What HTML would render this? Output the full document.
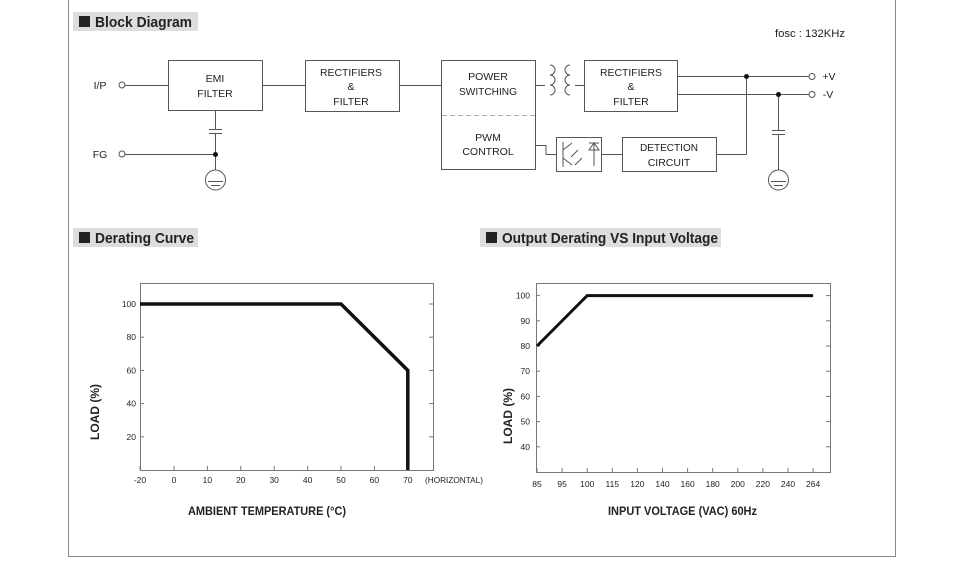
<!DOCTYPE html>
<html><head><meta charset="utf-8"><style>
body{margin:0;background:#fff;width:960px;height:561px;overflow:hidden;font-family:"Liberation Sans",Arial,sans-serif}
svg text{font-family:"Liberation Sans",Arial,sans-serif;fill:#222}
</style></head><body>
<svg width="960" height="561" viewBox="0 0 960 561" xmlns="http://www.w3.org/2000/svg">
<g stroke="#888" fill="none" stroke-width="1">
<line x1="68.5" y1="0" x2="68.5" y2="556.5"/><line x1="68" y1="556.5" x2="896" y2="556.5"/><line x1="895.5" y1="0" x2="895.5" y2="557"/>
</g>
<g><rect x="73" y="12" width="125" height="19" fill="#ddd"/><rect x="79" y="16" width="11" height="11" fill="#222"/><text x="95" y="27" font-size="15" font-weight="bold" textLength="97" lengthAdjust="spacingAndGlyphs">Block Diagram</text></g>
<g><rect x="73" y="228" width="125" height="19" fill="#ddd"/><rect x="79" y="232" width="11" height="11" fill="#222"/><text x="95" y="243" font-size="15" font-weight="bold" textLength="99" lengthAdjust="spacingAndGlyphs">Derating Curve</text></g>
<g><rect x="480" y="228" width="241" height="19" fill="#ddd"/><rect x="486" y="232" width="11" height="11" fill="#222"/><text x="502" y="243" font-size="15" font-weight="bold" textLength="216" lengthAdjust="spacingAndGlyphs">Output Derating VS Input Voltage</text></g>
<text x="775" y="37" font-size="11" textLength="70" lengthAdjust="spacingAndGlyphs">fosc : 132KHz</text>
<g stroke="#555" fill="none" stroke-width="1">
<rect x="168.5" y="60.5" width="94" height="50"/>
<rect x="305.5" y="60.5" width="94" height="51"/>
<rect x="441.5" y="60.5" width="94" height="109"/>
<line x1="442" y1="115.5" x2="535" y2="115.5" stroke="#aaa" stroke-dasharray="5,3"/>
<rect x="584.5" y="60.5" width="93" height="51"/>
<rect x="556.5" y="137.5" width="45" height="34"/>
<rect x="622.5" y="137.5" width="94" height="34"/>
<circle cx="122" cy="85" r="3"/><line x1="125" y1="85.5" x2="168" y2="85.5"/>
<circle cx="122" cy="154" r="3"/><line x1="125" y1="154.5" x2="215" y2="154.5"/>
<line x1="262" y1="85.5" x2="305" y2="85.5"/><line x1="399" y1="85.5" x2="441" y2="85.5"/>
<line x1="215.5" y1="110" x2="215.5" y2="129"/><line x1="209" y1="129.5" x2="222" y2="129.5"/><line x1="209" y1="133.5" x2="222" y2="133.5"/><line x1="215.5" y1="134" x2="215.5" y2="170"/>
<circle cx="215.5" cy="180" r="10"/><line x1="208" y1="181.5" x2="223" y2="181.5"/><line x1="211" y1="185.5" x2="220" y2="185.5"/>
<path d="M535 85.5 H545 M575 85.5 H584"/>
<path d="M550 65 a5 5 0 0 1 0 10 a5 5 0 0 1 0 10 a5 5 0 0 1 0 10"/>
<path d="M570 65 a5 5 0 0 0 0 10 a5 5 0 0 0 0 10 a5 5 0 0 0 0 10"/>
<line x1="677" y1="76.5" x2="809" y2="76.5"/><line x1="677" y1="94.5" x2="809" y2="94.5"/>
<circle cx="812" cy="76.5" r="3"/><circle cx="812" cy="94.5" r="3"/>
<path d="M716 154.5 H746.5 V76"/>
<line x1="778.5" y1="94" x2="778.5" y2="130"/><line x1="772" y1="130.5" x2="785" y2="130.5"/><line x1="772" y1="134.5" x2="785" y2="134.5"/><line x1="778.5" y1="135" x2="778.5" y2="170"/>
<circle cx="778.5" cy="180" r="10"/><line x1="771" y1="181.5" x2="786" y2="181.5"/><line x1="774" y1="185.5" x2="783" y2="185.5"/>
<path d="M622 154.5 H601 M556 154.5 H546 V145.5 H536"/>
<path d="M563 142 V167 M563 150 L572 143 M563 158 L572 165 M578 150 L571 157 M582 158 L575 165 M589 143 H599 M594 143 V166 M589 150 H599 L594 143 Z"/>
</g>
<g fill="#111"><circle cx="215.5" cy="154.5" r="2.5"/><circle cx="746.5" cy="76.5" r="2.5"/><circle cx="778.5" cy="94.5" r="2.5"/></g>
<g font-size="10.5" text-anchor="middle">
<text x="100" y="89">I/P</text><text x="100" y="158">FG</text>
<text x="215" y="82">EMI</text><text x="215" y="97">FILTER</text>
<text x="351" y="76" textLength="62" lengthAdjust="spacingAndGlyphs">RECTIFIERS</text><text x="351" y="90">&amp;</text><text x="351" y="105">FILTER</text>
<text x="488" y="80">POWER</text><text x="488" y="95" textLength="58" lengthAdjust="spacingAndGlyphs">SWITCHING</text>
<text x="488" y="141">PWM</text><text x="488" y="155">CONTROL</text>
<text x="631" y="76" textLength="62" lengthAdjust="spacingAndGlyphs">RECTIFIERS</text><text x="631" y="90">&amp;</text><text x="631" y="105">FILTER</text>
<text x="669" y="151" textLength="58" lengthAdjust="spacingAndGlyphs">DETECTION</text><text x="669" y="166">CIRCUIT</text>
<text x="829" y="80">+V</text><text x="828" y="98">-V</text>
</g>
<g id="c1"></g>
<g id="c2"></g>
</svg>
<script>
const tempTicks=[-20,0,10,20,30,40,50,60,70];
const loadTicks1=[20,40,60,80,100];
const tempX=[-20,50,70,70];
const tempLoad=[100,100,60,0];
const vacTicks=["85","95","100","115","120","140","160","180","200","220","240","264"];
const loadTicks2=[40,50,60,70,80,90,100];
const vacIdx=[0,2,11];
const vacLoad=[80,100,100];
const NS="http://www.w3.org/2000/svg";
function mk(p,t,a){const e=document.createElementNS(NS,t);for(const k in a)e.setAttribute(k,a[k]);p.appendChild(e);return e;}
(function(){
const g=document.getElementById('c1');
const X=v=>v<0?174+v*1.7:174+v*3.34, Y=v=>470-v*1.66;
const box=mk(g,'rect',{x:140.5,y:283.5,width:293,height:187,fill:'none',stroke:'#777'});


tempTicks.forEach(t=>{
const l=mk(g,'line',{x1:X(t),x2:X(t),y1:470,y2:466,stroke:'#777'});


const tx=mk(g,'text',{x:X(t),y:483,'font-size':8.5,'text-anchor':'middle'});tx.textContent=t;


});
loadTicks1.forEach(t=>{
mk(g,'line',{x1:140,x2:144,y1:Y(t),y2:Y(t),stroke:'#777'});
mk(g,'line',{x1:429,x2:433,y1:Y(t),y2:Y(t),stroke:'#777'});
const tx=mk(g,'text',{x:136,y:Y(t)+3,'font-size':8.5,'text-anchor':'end'});tx.textContent=t;


});
const h=mk(g,'text',{x:425,y:483,'font-size':8.5,textLength:58,lengthAdjust:'spacingAndGlyphs'});h.textContent='(HORIZONTAL)';


const xt=mk(g,'text',{x:188,y:515,'font-size':12,'font-weight':'bold',textLength:158,lengthAdjust:'spacingAndGlyphs'});xt.textContent='AMBIENT TEMPERATURE (°C)';


const yt=mk(g,'text',{x:0,y:0,'font-size':12,'font-weight':'bold','text-anchor':'middle',transform:'translate(99,412) rotate(-90)'});yt.textContent='LOAD (%)';


const p=mk(g,'polyline',{points:tempX.map((v,i)=>X(v)+','+Y(tempLoad[i])).join(' '),fill:'none',stroke:'#111','stroke-width':3.5});


})();
(function(){
const g=document.getElementById('c2');
const X=i=>537+i*25.1, Y=v=>472-(v-30)*2.52;
const box=mk(g,'rect',{x:536.5,y:283.5,width:294,height:189,fill:'none',stroke:'#777'});


vacTicks.forEach((t,i)=>{
mk(g,'line',{x1:X(i),x2:X(i),y1:472,y2:468,stroke:'#777'});
const tx=mk(g,'text',{x:X(i),y:487,'font-size':8.5,'text-anchor':'middle'});tx.textContent=t;


});
loadTicks2.forEach(t=>{
mk(g,'line',{x1:536,x2:540,y1:Y(t),y2:Y(t),stroke:'#777'});
mk(g,'line',{x1:826,x2:830,y1:Y(t),y2:Y(t),stroke:'#777'});
const tx=mk(g,'text',{x:530,y:Y(t)+3,'font-size':8.5,'text-anchor':'end'});tx.textContent=t;


});
const xt=mk(g,'text',{x:608,y:515,'font-size':12,'font-weight':'bold',textLength:149,lengthAdjust:'spacingAndGlyphs'});xt.textContent='INPUT VOLTAGE (VAC) 60Hz';


const yt=mk(g,'text',{x:0,y:0,'font-size':12,'font-weight':'bold','text-anchor':'middle',transform:'translate(512,416) rotate(-90)'});yt.textContent='LOAD (%)';


const p=mk(g,'polyline',{points:vacIdx.map((v,i)=>X(v)+','+Y(vacLoad[i])).join(' '),fill:'none',stroke:'#111','stroke-width':3});


})();
</script>
</body></html>
